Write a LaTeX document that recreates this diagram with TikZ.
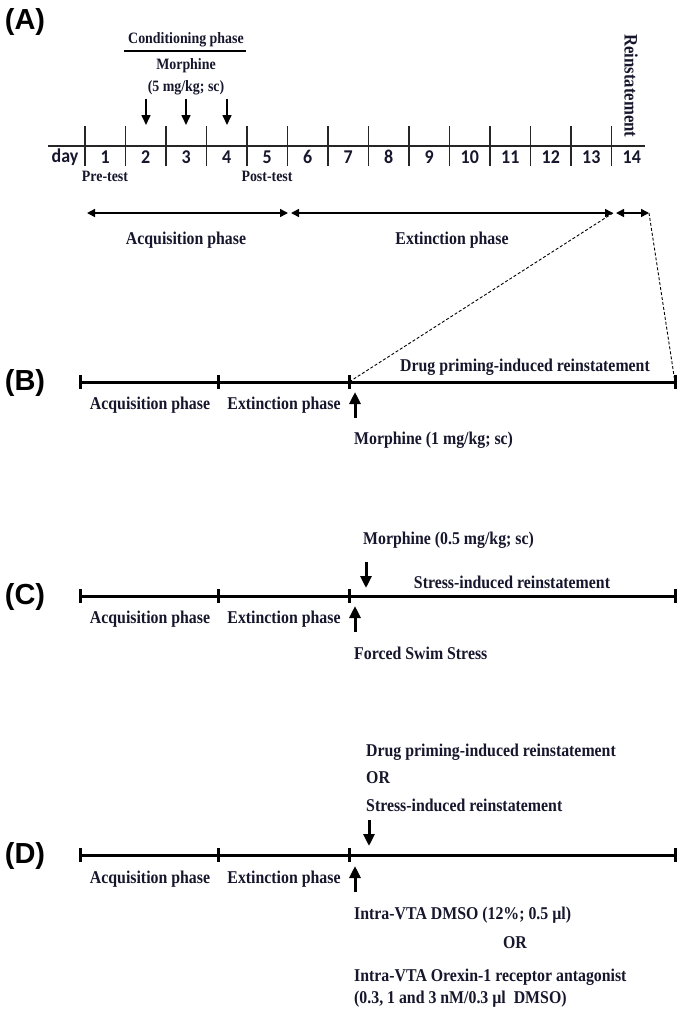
\documentclass[tikz,border=0pt]{standalone}
\usepackage{fontspec}
\setmainfont{Liberation Serif}[FakeStretch=0.88]
\newfontfamily\daysfont{Carlito}[FakeStretch=0.92]
\newfontfamily\panelfont{Liberation Sans}
\usetikzlibrary{arrows.meta}
\definecolor{ink}{RGB}{22,22,45}
\begin{document}
\begin{tikzpicture}[x=1pt,y=-1pt,
  lbl/.style={inner sep=0pt, text=ink, font=\bfseries\fontsize{18}{20}\selectfont},
  smalltxt/.style={inner sep=0pt, text=ink, font=\bfseries\fontsize{15.8}{18}\selectfont},
  daytxt/.style={inner sep=0pt, text=ink, font=\daysfont\bfseries\fontsize{19.5}{21}\selectfont},
  paneltxt/.style={inner sep=0pt, font=\panelfont\bfseries\fontsize{29}{31}\selectfont},
  thinline/.style={line width=1.1pt, draw=black!85},
  thicktl/.style={line width=3pt},
  dbl/.style={line width=1.5pt, {Triangle[length=8pt,width=8pt]}-{Triangle[length=8pt,width=8pt]}},
  bigarr/.style={line width=3pt, -{Triangle[length=12pt,width=11pt]}},
  smallarr/.style={line width=1.6pt, -{Triangle[length=10pt,width=9pt]}},
  dsh/.style={line width=0.9pt, dash pattern=on 3pt off 2pt}
]
\useasboundingbox (0,0) rectangle (682,1018);

% ---------------- Panel A ----------------
\node[paneltxt] (pA) at (25,22) {(A)};
\node[smalltxt] (cond) at (186,40) {Conditioning phase};
\coordinate (ul1) at (124,51); \coordinate (ul2) at (246,51);
\draw[line width=1.2pt] (ul1) -- (ul2);
\node[smalltxt] (morA) at (186,66) {Morphine};
\node[smalltxt] (doseA) at (186,88) {(5 mg/kg; sc)};
\foreach \x in {146,186,227} {
  \coordinate (a\x) at (\x,99); \coordinate (b\x) at (\x,125);
  \draw[smallarr] (a\x) -- (b\x);
}
\coordinate (tl0) at (48,146); \coordinate (tl1) at (645,146);
\draw[thinline] (tl0) -- (tl1);
\foreach \i in {0,...,13} {
  \draw[thinline] ({85+40.5*\i},126) -- ({85+40.5*\i},166);
}
\node[daytxt] (dayw) at (65,157) {day};
\foreach \i in {1,...,14} {
  \node[daytxt] (d\i) at ({85+40.5*(\i-1)+20.25},157) {\i};
}
\node[smalltxt] (pre) at (105,176) {Pre-test};
\node[smalltxt] (post) at (267,176) {Post-test};
\node[inner sep=0pt, text=ink, font=\bfseries\fontsize{19}{21}\selectfont, rotate=-90] (rein) at (631,86) {Reinstatement};

\coordinate (q1) at (87,213); \coordinate (q2) at (288,213);
\coordinate (q3) at (291,213); \coordinate (q4) at (613,213);
\coordinate (q5) at (616,213); \coordinate (q6) at (649,213);
\draw[dbl] (q1) -- (q2);
\draw[dbl] (q3) -- (q4);
\draw[dbl] (q5) -- (q6);
\node[lbl] (acqA) at (186,240) {Acquisition phase};
\node[lbl] (extA) at (452,240) {Extinction phase};

% ---------------- Panel B ----------------
\node[paneltxt] (pB) at (25,383) {(B)};
\coordinate (B0) at (80,382); \coordinate (B1) at (218,382);
\coordinate (B2) at (349,382); \coordinate (B3) at (675,382);
\draw[thicktl] (B0) -- (B3);
\foreach \x in {80,218,349,675} \draw[thicktl] (\x,375) -- (\x,389);
\draw[dsh] (q4) -- (B2);
\draw[dsh] (q6) -- (B3);
\node[lbl] (acqB) at (150,405) {Acquisition phase};
\node[lbl] (extB) at (284,405) {Extinction phase};
\node[lbl] (drugB) at (525,367) {Drug priming-induced reinstatement};
\coordinate (Bu0) at (355,418); \coordinate (Bu1) at (355,392);
\draw[bigarr] (Bu0) -- (Bu1);
\node[lbl, anchor=west] (morB) at (354,440) {Morphine (1 mg/kg; sc)};

% ---------------- Panel C ----------------
\node[paneltxt] (pC) at (25,597) {(C)};
\coordinate (C0) at (80,596); \coordinate (C3) at (675,596);
\draw[thicktl] (C0) -- (C3);
\foreach \x in {80,218,349,675} \draw[thicktl] (\x,589) -- (\x,603);
\node[lbl] (acqC) at (150,619) {Acquisition phase};
\node[lbl] (extC) at (284,619) {Extinction phase};
\node[lbl, anchor=west] (morC) at (363,540) {Morphine (0.5 mg/kg; sc)};
\coordinate (Cd0) at (366,562); \coordinate (Cd1) at (366,588);
\draw[bigarr] (Cd0) -- (Cd1);
\node[lbl] (stressC) at (512,582) {Stress-induced reinstatement};
\coordinate (Cu0) at (355,632); \coordinate (Cu1) at (355,606);
\draw[bigarr] (Cu0) -- (Cu1);
\node[lbl, anchor=west] (fss) at (354,653) {Forced Swim Stress};

% ---------------- Panel D ----------------
\node[paneltxt] (pD) at (25,856) {(D)};
\coordinate (D0) at (80,855); \coordinate (D3) at (675,855);
\draw[thicktl] (D0) -- (D3);
\foreach \x in {80,218,349,675} \draw[thicktl] (\x,848) -- (\x,862);
\node[lbl] (acqD) at (150,879) {Acquisition phase};
\node[lbl] (extD) at (284,879) {Extinction phase};
\node[lbl, anchor=west] (drugD) at (366,752) {Drug priming-induced reinstatement};
\node[lbl, anchor=west] (orD1) at (366,778) {OR};
\node[lbl, anchor=west] (stressD) at (366,805) {Stress-induced reinstatement};
\coordinate (Dd0) at (369,820); \coordinate (Dd1) at (369,846);
\draw[bigarr] (Dd0) -- (Dd1);
\coordinate (Du0) at (355,892); \coordinate (Du1) at (355,866);
\draw[bigarr] (Du0) -- (Du1);
\node[lbl, anchor=west] (dmso) at (354,915) {Intra-VTA DMSO (12\%; 0.5 µl)};
\node[lbl] (orD2) at (515,943) {OR};
\node[lbl, anchor=west] (orex) at (354,977) {Intra-VTA Orexin-1 receptor antagonist};
\node[lbl, anchor=west] (doses) at (354,999) {(0.3, 1 and 3 nM/0.3 µl\ \ DMSO)};
\end{tikzpicture}
\end{document}
